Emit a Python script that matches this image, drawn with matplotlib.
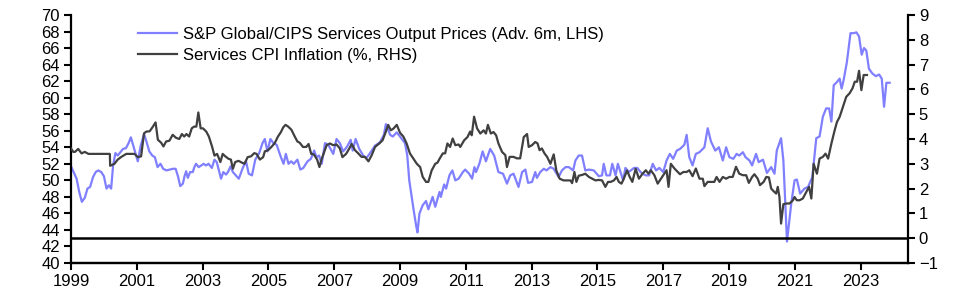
import matplotlib
matplotlib.use("Agg")
import matplotlib.pyplot as plt

plt.rcParams['font.family'] = ['Liberation Sans', 'DejaVu Sans']

# S&P Global/CIPS services output prices (advanced 6m), LHS
sp_dates = [1999.00, 1999.08, 1999.17, 1999.25, 1999.33, 1999.42, 1999.50, 1999.58, 1999.67, 1999.75,
            1999.83, 1999.92, 2000.00, 2000.08, 2000.15, 2000.22, 2000.28, 2000.35, 2000.42, 2000.50,
            2000.58, 2000.67, 2000.75, 2000.82, 2000.92, 2001.03, 2001.12, 2001.22, 2001.30, 2001.38,
            2001.47, 2001.55, 2001.63, 2001.72, 2001.80, 2001.90, 2002.00, 2002.10, 2002.18, 2002.25,
            2002.32, 2002.40, 2002.45, 2002.50, 2002.55, 2002.62, 2002.70, 2002.75, 2002.80, 2002.88,
            2002.96, 2003.03, 2003.10, 2003.18, 2003.28, 2003.36, 2003.43, 2003.56, 2003.63, 2003.71,
            2003.77, 2003.85, 2003.92, 2004.10, 2004.22, 2004.32, 2004.40, 2004.50, 2004.60, 2004.72,
            2004.82, 2004.89, 2004.97, 2005.06, 2005.15, 2005.25, 2005.38, 2005.46, 2005.53, 2005.61,
            2005.69, 2005.77, 2005.88, 2005.97, 2006.06, 2006.19, 2006.29, 2006.39, 2006.46, 2006.54,
            2006.62, 2006.72, 2006.82, 2006.97, 2007.07, 2007.17, 2007.27, 2007.38, 2007.50, 2007.56,
            2007.65, 2007.76, 2007.88, 2007.98, 2008.09, 2008.24, 2008.39, 2008.51, 2008.57, 2008.70,
            2008.78, 2008.90, 2009.00, 2009.15, 2009.22, 2009.28, 2009.41, 2009.49, 2009.53, 2009.59,
            2009.69, 2009.79, 2009.86, 2009.99, 2010.07, 2010.20, 2010.24, 2010.34, 2010.40, 2010.50,
            2010.59, 2010.68, 2010.78, 2010.91, 2010.98, 2011.10, 2011.19, 2011.26, 2011.31, 2011.41,
            2011.51, 2011.61, 2011.74, 2011.86, 2011.99, 2012.13, 2012.25, 2012.35, 2012.45, 2012.60,
            2012.71, 2012.81, 2012.89, 2013.01, 2013.11, 2013.16, 2013.26, 2013.37, 2013.45, 2013.57,
            2013.67, 2013.82, 2013.92, 2014.03, 2014.13, 2014.26, 2014.33, 2014.43, 2014.53, 2014.63,
            2014.74, 2014.89, 2015.04, 2015.14, 2015.19, 2015.27, 2015.38, 2015.45, 2015.55, 2015.62,
            2015.70, 2015.78, 2015.85, 2015.95, 2016.11, 2016.21, 2016.31, 2016.37, 2016.47, 2016.57,
            2016.68, 2016.78, 2016.88, 2017.00, 2017.10, 2017.20, 2017.30, 2017.41, 2017.51, 2017.64,
            2017.71, 2017.79, 2017.89, 2017.99, 2018.10, 2018.25, 2018.35, 2018.45, 2018.58, 2018.69,
            2018.81, 2018.91, 2019.01, 2019.13, 2019.23, 2019.31, 2019.42, 2019.50, 2019.62, 2019.70,
            2019.82, 2019.90, 2020.03, 2020.15, 2020.28, 2020.38, 2020.45, 2020.58, 2020.65, 2020.76,
            2020.89, 2020.99, 2021.06, 2021.16, 2021.29, 2021.40, 2021.53, 2021.65, 2021.75, 2021.85,
            2021.95, 2022.04, 2022.11, 2022.18, 2022.28, 2022.36, 2022.42, 2022.48, 2022.58, 2022.69,
            2022.79, 2022.87, 2022.95, 2023.03, 2023.10, 2023.17, 2023.25, 2023.36, 2023.46, 2023.56,
            2023.64, 2023.71, 2023.78, 2023.88]
sp_values = [51.7, 51.0, 50.2, 48.6, 47.4, 47.9, 49.0, 49.2, 50.4, 51.0,
             51.2, 51.0, 50.5, 49.0, 49.4, 49.0, 51.8, 53.3, 53.0, 53.4,
             53.8, 53.9, 54.5, 55.2, 53.8, 52.3, 54.2, 55.6, 54.6, 53.5,
             53.0, 52.8, 51.6, 52.0, 51.4, 51.2, 51.3, 51.4, 51.4, 50.5,
             49.3, 49.6, 50.5, 51.1, 50.3, 51.0, 51.0, 51.6, 52.0, 51.6,
             51.8, 52.0, 51.8, 52.0, 51.5, 52.5, 52.2, 50.2, 51.0, 50.7,
             51.0, 51.7, 51.0, 50.2, 51.5, 52.3, 50.8, 50.6, 52.5, 53.3,
             54.5, 55.0, 53.5, 55.0, 54.5, 54.3, 52.8, 52.0, 53.2, 52.0,
             52.3, 52.0, 52.5, 51.3, 51.5, 52.3, 52.6, 53.6, 52.8, 53.0,
             52.0, 54.5, 54.3, 53.2, 55.0, 54.5, 53.5, 54.0, 54.9, 53.6,
             55.0, 53.8, 53.0, 52.7, 53.3, 54.2, 54.6, 55.5, 56.8, 55.5,
             55.3, 55.8, 55.3, 54.5, 53.0, 50.0, 46.5, 44.5, 43.7, 46.0,
             47.0, 47.5, 46.5, 48.0, 46.8, 48.6, 48.0, 49.5, 49.0, 50.6,
             51.2, 50.0, 50.2, 51.0, 51.3, 50.8, 50.2, 51.6, 51.0, 52.0,
             53.5, 52.3, 53.8, 53.0, 51.0, 50.8, 49.6, 50.6, 50.8, 49.2,
             51.0, 51.3, 49.7, 49.8, 51.0, 50.3, 51.0, 51.4, 51.2, 51.6,
             51.4, 50.4, 51.2, 51.6, 51.6, 51.2, 52.4, 53.0, 53.0, 51.2,
             51.3, 51.2, 50.5, 50.6, 52.0, 50.6, 50.6, 52.0, 50.6, 52.0,
             51.0, 50.0, 51.5, 51.0, 51.5, 51.5, 51.0, 50.8, 50.6, 50.6,
             52.0, 51.2, 51.5, 51.0, 52.4, 53.2, 52.6, 53.6, 53.8, 54.3,
             55.5, 52.8, 51.8, 53.2, 53.4, 54.0, 56.3, 54.7, 53.6, 54.0,
             52.4, 54.0, 52.8, 52.6, 53.2, 53.0, 53.4, 52.8, 52.4, 51.8,
             53.2, 52.2, 52.5, 50.9, 51.6, 50.8, 53.6, 55.1, 52.4, 42.6,
             47.2, 50.0, 50.1, 48.4, 49.0, 49.2, 50.4, 55.1, 55.3, 57.7,
             58.7, 58.7, 57.1, 61.5, 61.9, 62.3, 61.1, 62.1, 64.3, 67.8,
             67.8, 67.9, 67.4, 65.2, 66.0, 65.7, 63.5, 62.9, 62.6, 62.8,
             62.3, 58.9, 61.8, 61.8]

# Services CPI inflation (%), RHS
cpi_dates = [1999.00, 1999.07, 1999.12, 1999.22, 1999.32, 1999.42, 1999.53, 2000.18, 2000.19, 2000.32,
             2000.42, 2000.53, 2000.68, 2000.80, 2000.93, 2001.03, 2001.13, 2001.22, 2001.29, 2001.39,
             2001.49, 2001.57, 2001.64, 2001.74, 2001.81, 2001.89, 2001.99, 2002.09, 2002.19, 2002.29,
             2002.37, 2002.44, 2002.51, 2002.59, 2002.67, 2002.74, 2002.81, 2002.87, 2002.94, 2003.01,
             2003.11, 2003.19, 2003.29, 2003.36, 2003.44, 2003.54, 2003.61, 2003.69, 2003.79, 2003.86,
             2003.92, 2003.99, 2004.09, 2004.19, 2004.27, 2004.37, 2004.47, 2004.57, 2004.64, 2004.74,
             2004.84, 2004.89, 2004.99, 2005.09, 2005.19, 2005.29, 2005.38, 2005.45, 2005.52, 2005.60,
             2005.70, 2005.80, 2005.88, 2005.95, 2006.05, 2006.15, 2006.22, 2006.30, 2006.38, 2006.48,
             2006.55, 2006.62, 2006.77, 2006.87, 2006.97, 2007.07, 2007.17, 2007.25, 2007.36, 2007.46,
             2007.53, 2007.63, 2007.73, 2007.83, 2007.93, 2008.04, 2008.14, 2008.24, 2008.37, 2008.47,
             2008.57, 2008.64, 2008.72, 2008.80, 2008.90, 2009.00, 2009.10, 2009.20, 2009.30, 2009.41,
             2009.51, 2009.61, 2009.69, 2009.79, 2009.86, 2009.96, 2010.07, 2010.14, 2010.20, 2010.30,
             2010.37, 2010.44, 2010.52, 2010.60, 2010.68, 2010.78, 2010.83, 2010.95, 2011.05, 2011.13,
             2011.18, 2011.25, 2011.34, 2011.44, 2011.54, 2011.61, 2011.67, 2011.76, 2011.84, 2011.92,
             2011.99, 2012.10, 2012.20, 2012.25, 2012.33, 2012.45, 2012.55, 2012.65, 2012.76, 2012.86,
             2012.91, 2013.01, 2013.11, 2013.18, 2013.24, 2013.31, 2013.39, 2013.47, 2013.57, 2013.67,
             2013.75, 2013.85, 2013.97, 2014.08, 2014.18, 2014.23, 2014.30, 2014.36, 2014.43, 2014.53,
             2014.63, 2014.74, 2014.84, 2014.94, 2015.04, 2015.14, 2015.24, 2015.32, 2015.40, 2015.50,
             2015.58, 2015.65, 2015.73, 2015.80, 2015.90, 2015.98, 2016.06, 2016.16, 2016.26, 2016.37,
             2016.47, 2016.55, 2016.62, 2016.73, 2016.83, 2016.93, 2017.00, 2017.10, 2017.16, 2017.23,
             2017.34, 2017.44, 2017.51, 2017.61, 2017.71, 2017.79, 2017.89, 2017.99, 2018.10, 2018.20,
             2018.25, 2018.35, 2018.45, 2018.55, 2018.62, 2018.71, 2018.81, 2018.91, 2019.01, 2019.11,
             2019.21, 2019.31, 2019.42, 2019.52, 2019.60, 2019.70, 2019.77, 2019.87, 2019.94, 2020.05,
             2020.13, 2020.21, 2020.28, 2020.35, 2020.43, 2020.48, 2020.53, 2020.58, 2020.65, 2020.74,
             2020.84, 2020.94, 2020.99, 2021.06, 2021.14, 2021.24, 2021.35, 2021.43, 2021.50, 2021.57,
             2021.67, 2021.75, 2021.85, 2021.93, 2022.01, 2022.11, 2022.21, 2022.28, 2022.36, 2022.46,
             2022.56, 2022.66, 2022.75, 2022.82, 2022.89, 2022.95, 2023.02, 2023.09, 2023.19]
cpi_values = [3.62, 3.48, 3.48, 3.60, 3.42, 3.48, 3.40, 3.40, 2.92, 3.00,
              3.17, 3.28, 3.40, 3.40, 3.40, 3.27, 3.30, 4.23, 4.30, 4.31,
              4.50, 4.67, 3.97, 3.85, 3.70, 3.90, 3.93, 4.17, 4.05, 4.00,
              4.20, 4.10, 4.20, 4.10, 4.43, 4.50, 4.50, 5.07, 4.43, 4.43,
              4.30, 4.10, 3.68, 3.33, 3.40, 3.07, 3.40, 3.30, 3.20, 3.17,
              2.80, 3.07, 3.12, 3.05, 3.00, 3.27, 3.30, 3.43, 3.40, 3.17,
              3.27, 3.50, 3.55, 3.68, 3.83, 4.10, 4.28, 4.47, 4.57, 4.50,
              4.37, 4.10, 3.90, 3.85, 3.68, 3.68, 3.80, 3.40, 3.38, 3.17,
              2.87, 3.20, 3.75, 3.82, 3.75, 3.78, 3.62, 3.27, 3.40, 3.62,
              3.80, 3.55, 3.42, 3.28, 3.28, 3.10, 3.35, 3.68, 3.82, 3.95,
              4.30, 4.57, 4.35, 4.42, 4.57, 4.25, 4.10, 3.82, 3.42, 3.20,
              3.00, 2.87, 2.47, 2.27, 2.27, 2.73, 3.00, 3.05, 3.20, 3.42,
              3.42, 3.82, 3.68, 4.02, 3.75, 3.78, 3.68, 3.95, 4.08, 4.30,
              4.15, 4.90, 4.43, 4.22, 4.35, 4.22, 4.57, 4.22, 4.28, 4.15,
              3.82, 3.48, 3.35, 2.87, 3.28, 3.28, 3.22, 3.22, 4.08, 4.20,
              3.68, 3.75, 3.88, 3.82, 3.55, 3.62, 3.42, 3.28, 3.00, 3.38,
              2.73, 2.40, 2.33, 2.33, 2.33, 2.22, 2.67, 2.27, 2.52, 2.55,
              2.60, 2.47, 2.40, 2.33, 2.35, 2.33, 2.07, 2.27, 2.27, 2.33,
              2.47, 2.27, 2.20, 2.40, 2.73, 2.47, 2.27, 2.80, 2.40, 2.60,
              2.74, 2.60, 2.74, 2.54, 2.20, 2.40, 2.54, 2.74, 2.07, 3.00,
              2.81, 2.67, 2.58, 2.67, 2.67, 2.74, 2.50, 2.81, 2.40, 2.40,
              2.10, 2.27, 2.27, 2.27, 2.47, 2.27, 2.47, 2.40, 2.47, 2.47,
              2.88, 2.60, 2.54, 2.54, 2.23, 2.47, 2.58, 2.40, 2.14, 2.27,
              2.47, 2.45, 2.00, 1.90, 1.80, 2.07, 1.66, 0.59, 1.37, 1.40,
              1.40, 1.53, 1.66, 1.53, 1.53, 1.60, 1.87, 2.07, 1.60, 3.00,
              2.60, 3.21, 3.28, 3.41, 3.21, 3.82, 4.36, 4.69, 4.89, 5.30,
              5.70, 5.84, 6.04, 6.31, 6.31, 6.75, 5.97, 6.58, 6.58]

year_ticks = list(range(1999, 2024, 2))

fig = plt.figure(figsize=(9.66, 2.94), dpi=100)
ax = fig.add_axes([0.0735, 0.1054, 0.8662, 0.8436])
ax2 = ax.twinx()

l1, = ax.plot(sp_dates, sp_values, color='#7f7fff', lw=1.6,
              label='S&P Global/CIPS Services Output Prices (Adv. 6m, LHS)')
l2, = ax2.plot(cpi_dates, cpi_values, color='#404040', lw=1.6,
               label='Services CPI Inflation (%, RHS)')
ax2.axhline(0, color='black', lw=1.8)

ax.set_xlim(1999, 2024.43)
ax.set_ylim(40, 70)
ax.set_yticks(range(40, 71, 2))
ax2.set_ylim(-1, 9)
ax2.set_yticks(range(-1, 10))
ax.set_xticks(year_ticks)
ax.set_xticklabels([str(y) for y in year_ticks])

for a in (ax, ax2):
    a.spines['top'].set_visible(False)
    for s in ('left', 'right', 'bottom'):
        a.spines[s].set_linewidth(1.6)
    a.tick_params(axis='both', direction='out', length=5, width=1.5, labelsize=12, pad=3)
ax.spines['right'].set_visible(False)
ax2.spines['left'].set_visible(False)

ax.legend(handles=[l1, l2], loc='upper left', bbox_to_anchor=(0.072, 0.98),
          frameon=False, fontsize=12, handlelength=2.35, handletextpad=0.38,
          labelspacing=0.4, borderaxespad=0)

fig.savefig('out.png', dpi=100)
